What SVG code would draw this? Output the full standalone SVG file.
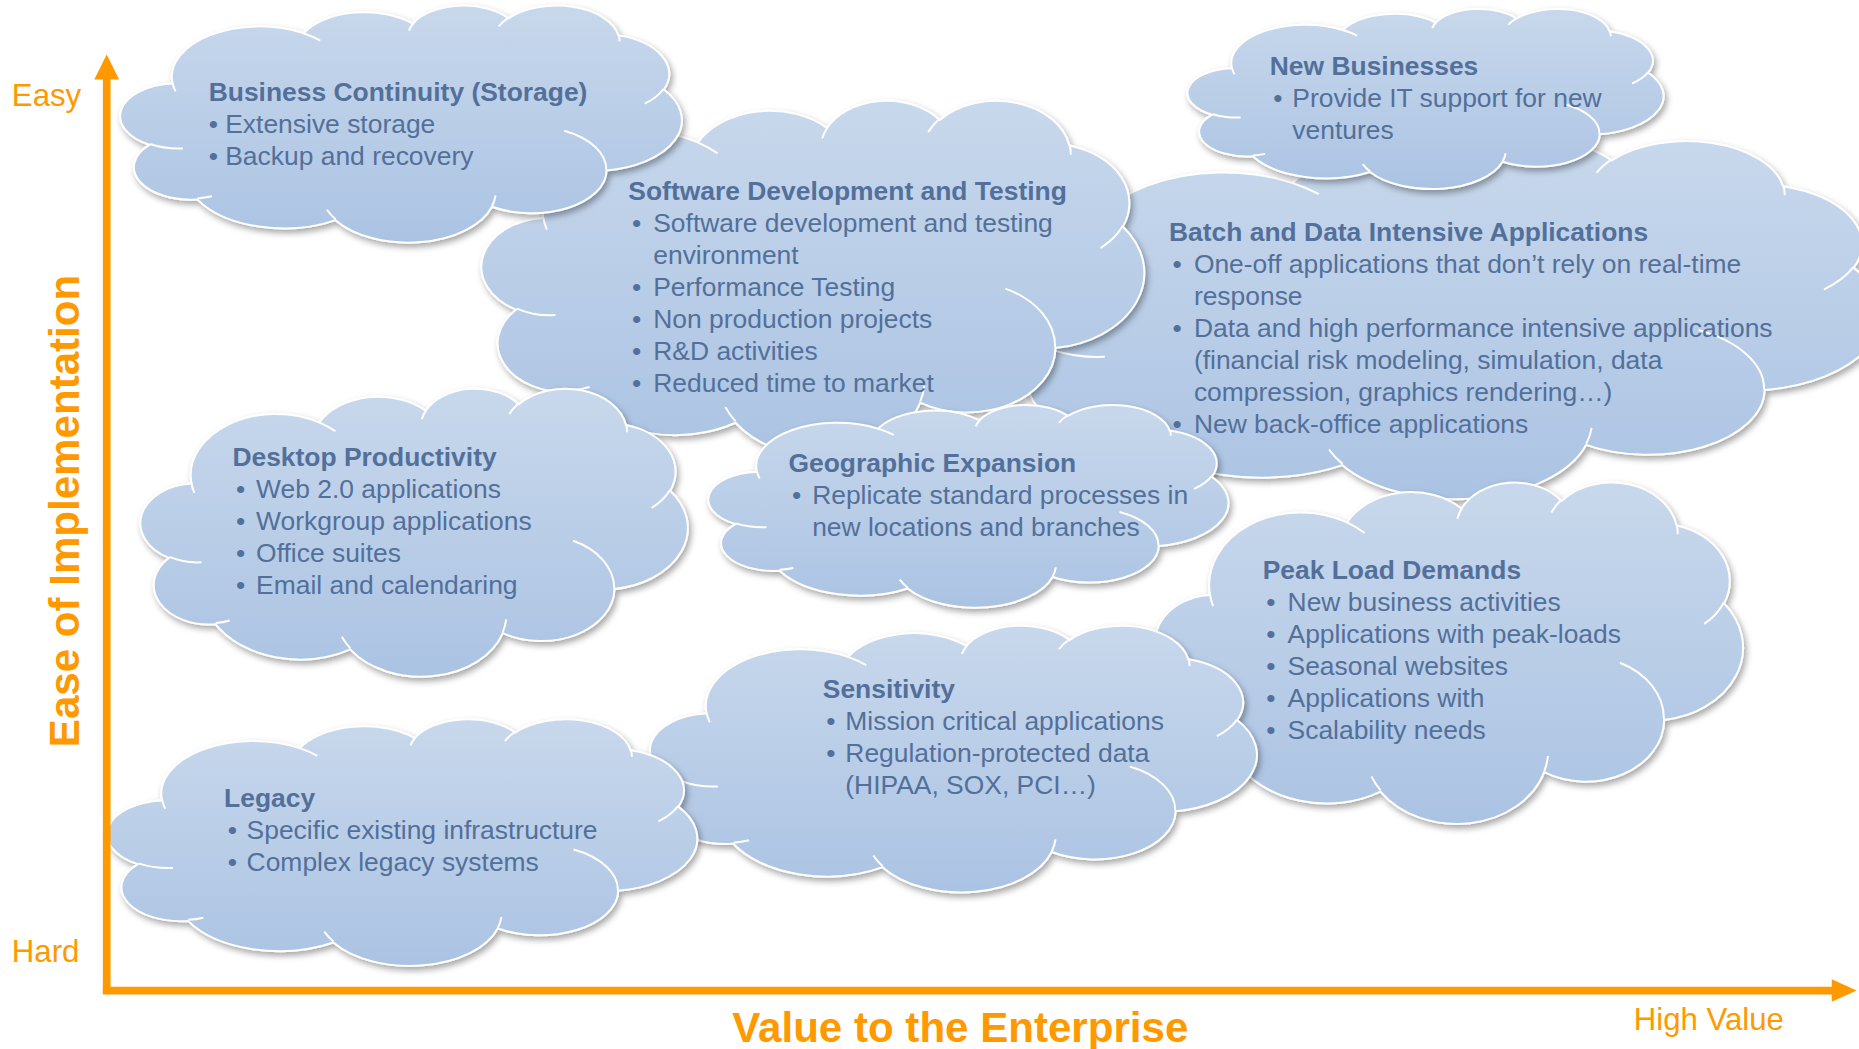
<svg xmlns="http://www.w3.org/2000/svg" xmlns:xlink="http://www.w3.org/1999/xlink" width="1859" height="1049" viewBox="0 0 1859 1049">
<defs>
<style>
.t{font-family:"Liberation Sans",Arial,sans-serif;font-size:22.3px;fill:#52709a}
.h{font-weight:bold}
.ax{font-family:"Liberation Sans",Arial,sans-serif;fill:#ff9900}
.body{fill:url(#cg);stroke:#ffffff;stroke-width:2;vector-effect:non-scaling-stroke}
.crease{fill:none;stroke:#ffffff;stroke-width:2;vector-effect:non-scaling-stroke}
.axis{stroke:#ff9900;stroke-width:6.5;fill:none}
</style>
<linearGradient id="cg" x1="0" y1="0" x2="0" y2="1">
<stop offset="0" stop-color="#c8d8ec"/>
<stop offset="1" stop-color="#abc3e3"/>
</linearGradient>
<filter id="sh" x="-5%" y="-5%" width="115%" height="125%">
<feDropShadow dx="2" dy="3" stdDeviation="2.5" flood-color="#000" flood-opacity="0.35"/>
</filter>
<path id="cloud" class="body" d="M3900 14370 A6753 9190 0 0 1 14006 5202 A5333 7267 0 0 1 22453 3434 A4365 5945 0 0 1 29829 2480 A4857 6595 0 0 1 38314 5581 A5333 7273 0 0 1 41815 15444 A6775 9220 0 0 1 37400 30186 A5785 7867 0 0 1 28552 36801 A6752 9215 0 0 1 16476 39246 A7720 10543 0 0 1 5799 35464 A4360 5918 0 0 1 2108 25516 A4345 5945 0 0 1 3900 14370 Z"/>
<path id="creases" class="crease" d="M4693 26177 A4345 5945 0 0 1 2160 25380 M6928 34899 A4360 5918 0 0 1 5819 35281 M16478 39090 A6752 9215 0 0 1 15810 37350 M28827 34751 A6752 9215 0 0 1 28560 36660 M34129 22954 A5785 7867 0 0 1 37380 30090 M41798 15354 A5333 7273 0 0 1 40350 18030 M38324 5426 A4857 6595 0 0 1 38401 6690 M29078 3952 A4857 6595 0 0 1 29820 2340 M22141 4720 A4365 5945 0 0 1 22500 3331 M14000 5192 A6753 9190 0 0 1 15300 6540 M4127 15789 A6753 9190 0 0 1 3900 14371"/>
</defs>
<rect width="1859" height="1049" fill="#ffffff"/>
<g transform="scale(1.18559)">

<g id="batch">
<g filter="url(#sh)"><svg x="852" y="118" width="735" height="302" viewBox="0 0 43200 43200" preserveAspectRatio="none" overflow="visible"><use xlink:href="#cloud"/></svg></g>
<svg x="852" y="118" width="735" height="302" viewBox="0 0 43200 43200" preserveAspectRatio="none" overflow="visible"><use xlink:href="#creases"/></svg>
<text class="t h" x="986" y="203">Batch and Data Intensive Applications</text>
<text class="t"><tspan x="989" y="230">•</tspan><tspan x="1007" y="230">One-off applications that don’t rely on real-time</tspan><tspan x="1007" y="257">response</tspan><tspan x="989" y="284">•</tspan><tspan x="1007" y="284">Data and high performance intensive applications</tspan><tspan x="1007" y="311">(financial risk modeling, simulation, data</tspan><tspan x="1007" y="338">compression, graphics rendering…)</tspan><tspan x="989" y="365">•</tspan><tspan x="1007" y="365">New back-office applications</tspan></text>
</g>

<g id="software">
<g filter="url(#sh)"><svg x="408" y="84" width="557" height="300" viewBox="0 0 43200 43200" preserveAspectRatio="none" overflow="visible"><use xlink:href="#cloud"/></svg></g>
<svg x="408" y="84" width="557" height="300" viewBox="0 0 43200 43200" preserveAspectRatio="none" overflow="visible"><use xlink:href="#creases"/></svg>
<text class="t h" x="530" y="169">Software Development and Testing</text>
<text class="t"><tspan x="533" y="196">•</tspan><tspan x="551" y="196">Software development and testing</tspan><tspan x="551" y="223">environment</tspan><tspan x="533" y="250">•</tspan><tspan x="551" y="250">Performance Testing</tspan><tspan x="533" y="277">•</tspan><tspan x="551" y="277">Non production projects</tspan><tspan x="533" y="304">•</tspan><tspan x="551" y="304">R&amp;D activities</tspan><tspan x="533" y="331">•</tspan><tspan x="551" y="331">Reduced time to market</tspan></text>
</g>

<g id="business-continuity">
<g filter="url(#sh)"><svg x="103" y="4" width="472" height="200" viewBox="0 0 43200 43200" preserveAspectRatio="none" overflow="visible"><use xlink:href="#cloud"/></svg></g>
<svg x="103" y="4" width="472" height="200" viewBox="0 0 43200 43200" preserveAspectRatio="none" overflow="visible"><use xlink:href="#creases"/></svg>
<text class="t h" x="176" y="85">Business Continuity (Storage)</text>
<text class="t"><tspan x="176" y="112">•</tspan><tspan x="190" y="112">Extensive storage</tspan><tspan x="176" y="139">•</tspan><tspan x="190" y="139">Backup and recovery</tspan></text>
</g>

<g id="new-businesses">
<g filter="url(#sh)"><svg x="1003" y="7" width="400" height="152" viewBox="0 0 43200 43200" preserveAspectRatio="none" overflow="visible"><use xlink:href="#cloud"/></svg></g>
<svg x="1003" y="7" width="400" height="152" viewBox="0 0 43200 43200" preserveAspectRatio="none" overflow="visible"><use xlink:href="#creases"/></svg>
<text class="t h" x="1071" y="63">New Businesses</text>
<text class="t"><tspan x="1074" y="90">•</tspan><tspan x="1090" y="90">Provide IT support for new</tspan><tspan x="1090" y="117">ventures</tspan></text>
</g>

<g id="peak-load">
<g filter="url(#sh)"><svg x="976" y="406" width="494" height="288" viewBox="0 0 43200 43200" preserveAspectRatio="none" overflow="visible"><use xlink:href="#cloud"/></svg></g>
<svg x="976" y="406" width="494" height="288" viewBox="0 0 43200 43200" preserveAspectRatio="none" overflow="visible"><use xlink:href="#creases"/></svg>
<text class="t h" x="1065" y="488">Peak Load Demands</text>
<text class="t"><tspan x="1068" y="515">•</tspan><tspan x="1086" y="515">New business activities</tspan><tspan x="1068" y="542">•</tspan><tspan x="1086" y="542">Applications with peak-loads</tspan><tspan x="1068" y="569">•</tspan><tspan x="1086" y="569">Seasonal websites</tspan><tspan x="1068" y="596">•</tspan><tspan x="1086" y="596">Applications with</tspan><tspan x="1068" y="623">•</tspan><tspan x="1086" y="623">Scalability needs</tspan></text>
</g>

<g id="desktop">
<g filter="url(#sh)"><svg x="120" y="327" width="460" height="243" viewBox="0 0 43200 43200" preserveAspectRatio="none" overflow="visible"><use xlink:href="#cloud"/></svg></g>
<svg x="120" y="327" width="460" height="243" viewBox="0 0 43200 43200" preserveAspectRatio="none" overflow="visible"><use xlink:href="#creases"/></svg>
<text class="t h" x="196" y="393">Desktop Productivity</text>
<text class="t"><tspan x="199" y="420">•</tspan><tspan x="216" y="420">Web 2.0 applications</tspan><tspan x="199" y="447">•</tspan><tspan x="216" y="447">Workgroup applications</tspan><tspan x="199" y="474">•</tspan><tspan x="216" y="474">Office suites</tspan><tspan x="199" y="501">•</tspan><tspan x="216" y="501">Email and calendaring</tspan></text>
</g>

<g id="geographic">
<g filter="url(#sh)"><svg x="599" y="341" width="437" height="171" viewBox="0 0 43200 43200" preserveAspectRatio="none" overflow="visible"><use xlink:href="#cloud"/></svg></g>
<svg x="599" y="341" width="437" height="171" viewBox="0 0 43200 43200" preserveAspectRatio="none" overflow="visible"><use xlink:href="#creases"/></svg>
<text class="t h" x="665" y="398">Geographic Expansion</text>
<text class="t"><tspan x="668" y="425">•</tspan><tspan x="685" y="425">Replicate standard processes in</tspan><tspan x="685" y="452">new locations and branches</tspan></text>
</g>

<g id="sensitivity">
<g filter="url(#sh)"><svg x="550" y="527" width="510" height="225" viewBox="0 0 43200 43200" preserveAspectRatio="none" overflow="visible"><use xlink:href="#cloud"/></svg></g>
<svg x="550" y="527" width="510" height="225" viewBox="0 0 43200 43200" preserveAspectRatio="none" overflow="visible"><use xlink:href="#creases"/></svg>
<text class="t h" x="694" y="589">Sensitivity</text>
<text class="t"><tspan x="697" y="616">•</tspan><tspan x="713" y="616">Mission critical applications</tspan><tspan x="697" y="643">•</tspan><tspan x="713" y="643">Regulation-protected data</tspan><tspan x="713" y="670">(HIPAA, SOX, PCI…)</tspan></text>
</g>

<g id="legacy">
<g filter="url(#sh)"><svg x="92" y="606" width="496" height="208" viewBox="0 0 43200 43200" preserveAspectRatio="none" overflow="visible"><use xlink:href="#cloud"/></svg></g>
<svg x="92" y="606" width="496" height="208" viewBox="0 0 43200 43200" preserveAspectRatio="none" overflow="visible"><use xlink:href="#creases"/></svg>
<text class="t h" x="189" y="681">Legacy</text>
<text class="t"><tspan x="192" y="708">•</tspan><tspan x="208" y="708">Specific existing infrastructure</tspan><tspan x="192" y="735">•</tspan><tspan x="208" y="735">Complex legacy systems</tspan></text>
</g>

<g id="axes">
<path class="axis" d="M90 838 V64"/>
<polygon points="90,46 100.5,67 79.5,67" fill="#ff9900"/>
<path class="axis" d="M86.75 835.5 H1546"/>
<polygon points="1566,835.5 1545,826 1545,845" fill="#ff9900"/>
</g>

<g id="labels">
<text class="ax" x="10" y="89" font-size="26.3">Easy</text>
<text class="ax" x="10" y="811" font-size="26.3">Hard</text>
<text class="ax" x="1378" y="869" font-size="26.3">High Value</text>
<text class="ax" x="810" y="879" font-size="35.5" font-weight="bold" text-anchor="middle">Value to the Enterprise</text>
<text class="ax" transform="translate(67 431) rotate(-90)" x="0" y="0" font-size="35.5" font-weight="bold" text-anchor="middle">Ease of Implementation</text>
</g>
</g>
</svg>
